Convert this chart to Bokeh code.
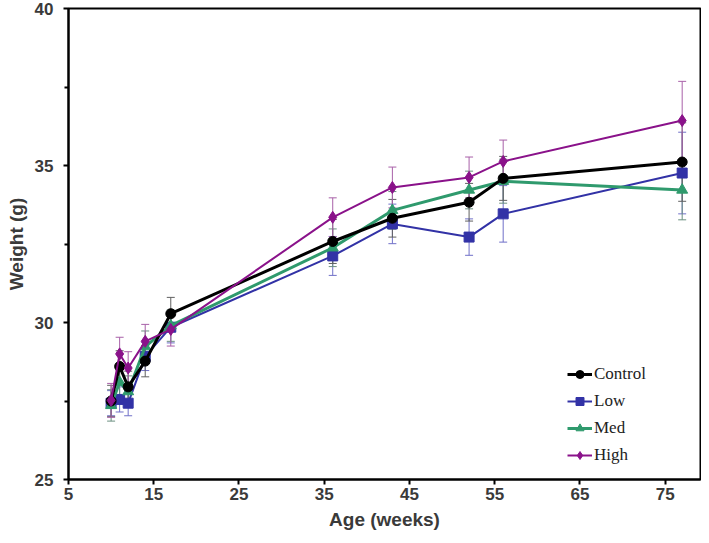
from bokeh.plotting import figure
from bokeh.models import (ColumnDataSource, Whisker, TeeHead, Legend, LegendItem,
                          FixedTicker, Range1d)
from bokeh.embed import file_html
from bokeh.resources import INLINE

weeks = [10, 11, 12, 14, 17, 36, 43, 52, 56, 77]

control = [27.50, 28.60, 27.95, 28.77, 30.28, 32.58, 33.32, 33.83, 34.59, 35.11]
control_err = [0.50, 0.50, 0.50, 0.50, 0.52, 0.70, 0.60, 0.60, 0.70, 1.25]

low = [27.43, 27.55, 27.43, 28.92, 29.85, 32.12, 33.14, 32.72, 33.46, 34.76]
low_err = [0.40, 0.40, 0.40, 0.45, 0.50, 0.62, 0.63, 0.58, 0.90, 1.30]

med = [27.36, 28.10, 27.80, 29.23, 29.90, 32.38, 33.57, 34.22, 34.50, 34.22]
med_err = [0.50, 0.50, 0.50, 0.50, 0.50, 0.60, 0.60, 0.60, 0.70, 0.95]

high = [27.52, 29.00, 28.55, 29.40, 29.78, 33.35, 34.30, 34.62, 35.13, 36.43]
high_err = [0.54, 0.53, 0.52, 0.54, 0.53, 0.62, 0.65, 0.65, 0.68, 1.25]

series_names = ["Control", "Low", "Med", "High"]
x_ticks = [5, 15, 25, 35, 45, 55, 65, 75]
y_ticks = [25, 30, 35, 40]
y_minor = [27.5, 32.5, 37.5]

p = figure(width=701, height=535, output_backend="svg", toolbar_location=None,
           x_range=Range1d(5, 79.15), y_range=Range1d(25, 40),
           min_border_left=68, min_border_right=1, min_border_top=8,
           min_border_bottom=56)
p.xgrid.visible = False
p.ygrid.visible = False
p.outline_line_color = "black"
p.outline_line_width = 2
p.background_fill_color = "white"
p.border_fill_color = "white"

p.xaxis.ticker = FixedTicker(ticks=x_ticks)
p.yaxis.ticker = FixedTicker(ticks=y_ticks, minor_ticks=y_minor)
for ax in (p.xaxis[0], p.yaxis[0]):
    ax.axis_line_color = "black"
    ax.axis_line_width = 2
    ax.major_tick_in = 0
    ax.major_tick_out = 5
    ax.major_tick_line_width = 2
    ax.minor_tick_in = 0
    ax.minor_tick_out = 4
    ax.minor_tick_line_width = 2
    ax.major_label_text_font = "Liberation Sans"
    ax.major_label_text_font_style = "bold"
    ax.major_label_text_font_size = "17px"
    ax.major_label_text_color = "#3a3a3a"
    ax.axis_label_text_font = "Liberation Sans"
    ax.axis_label_text_font_style = "bold"
    ax.axis_label_text_font_size = "19px"
    ax.axis_label_text_color = "#3a3a3a"

p.xaxis.axis_label = "Age (weeks)"
p.yaxis.axis_label = "Weight (g)"
p.xaxis.major_label_standoff = 3
p.xaxis.axis_label_standoff = 6
p.yaxis.major_label_standoff = 10
p.yaxis.axis_label_standoff = 5

specs = [
    ("Low", low, low_err, "#3232a6", "#7070c8", "square", 10, 2),
    ("Med", med, med_err, "#2f9a6d", "#6a8f80", "triangle", 11, 3),
    ("Control", control, control_err, "#000000", "#606060", "circle", 10, 3),
    ("High", high, high_err, "#8a128a", "#a860a8", "diamond", 12, 2),
]

items = {}
for name, vals, errs, col, ecol, marker, msize, lw in specs:
    src = ColumnDataSource(dict(x=weeks, y=vals,
                                upper=[v + e for v, e in zip(vals, errs)],
                                lower=[v - e for v, e in zip(vals, errs)]))
    w = Whisker(base="x", upper="upper", lower="lower", source=src,
                line_color=ecol, line_width=1,
                upper_head=TeeHead(size=8, line_color=ecol, line_width=1),
                lower_head=TeeHead(size=8, line_color=ecol, line_width=1))
    p.add_layout(w)
    ln = p.line("x", "y", source=src, line_color=col, line_width=lw)
    sc = p.scatter("x", "y", source=src, marker=marker, size=msize,
                   fill_color=col, line_color=col)
    items[name] = [ln, sc]

legend = Legend(items=[LegendItem(label=n, renderers=items[n]) for n in series_names],
                location=(499, 14), border_line_color=None,
                background_fill_alpha=0, label_text_font="Liberation Serif",
                label_text_font_size="17px", label_text_color="#222222",
                glyph_width=25, glyph_height=20, label_height=20,
                label_standoff=2, spacing=7, padding=0, margin=0)
p.add_layout(legend)

open("out.html", "w").write(file_html(p, INLINE))
